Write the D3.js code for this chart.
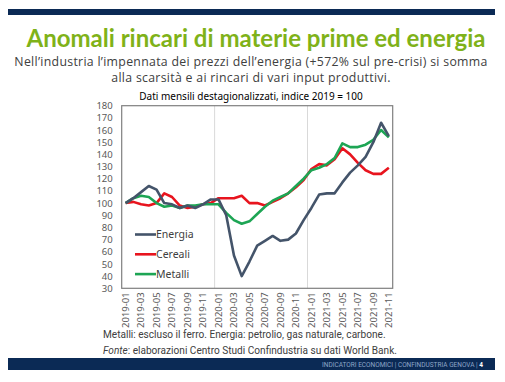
<!DOCTYPE html>
<html><head><meta charset="utf-8">
<script src="https://cdn.jsdelivr.net/npm/d3@7"></script>
<style>
html,body{margin:0;padding:0;background:#fff;}
svg{display:block;}
</style>
</head><body>
<svg id="c" width="505" height="382"></svg>
<script>
const months = ["2019-01","2019-02","2019-03","2019-04","2019-05","2019-06","2019-07","2019-08","2019-09","2019-10","2019-11","2019-12",
"2020-01","2020-02","2020-03","2020-04","2020-05","2020-06","2020-07","2020-08","2020-09","2020-10","2020-11","2020-12",
"2021-01","2021-02","2021-03","2021-04","2021-05","2021-06","2021-07","2021-08","2021-09","2021-10","2021-11"];
const energia = [100,104,109,114,111,100,99,96,98,96,99,103,103,90,57,40,52,65,69,73,69,70,75,86,96,107,108,108,117,125,131,138,150,166,155];
const cereali = [100,101,99,98,100,108,105,98,96,97,99,100,104,104,104,106,100,100,98,101,104,108,113,119,128,132,131,136,145,140,133,127,124,124,129];
const metalli = [100,104,106,105,100,97,98,96,98,98,99,99,99,92,86,83,85,91,97,102,105,108,114,120,127,129,132,137,149,146,146,148,152,160,154];
const seriesNames = ["Energia","Cereali","Metalli"];
const seriesColors = ["#44546a","#e8141e","#1da554"];
const yTicks = [30,40,50,60,70,80,90,100,110,120,130,140,150,160,170,180];
const xTickLabels = months.filter((m,i)=>i%2===0);

const svg = d3.select("#c");
const navy = "#0b2a55";

// top bar
svg.append("rect").attr("x",8).attr("y",9).attr("width",487).attr("height",6).attr("fill",navy);
// title
svg.append("text").attr("x",256).attr("y",47).attr("text-anchor","middle")
  .attr("font-family","Lato, 'Open Sans', sans-serif").attr("font-weight","bold").attr("font-size",24)
  .attr("fill","#7fb219").text("Anomali rincari di materie prime ed energia");
// subtitle
const sub = svg.append("g").attr("font-family","'Open Sans', sans-serif").attr("font-size",12.3)
  .attr("letter-spacing",0.3).attr("fill","#404040").attr("text-anchor","middle");
sub.append("text").attr("x",251).attr("y",65.5).text("Nell\u2019industria l\u2019impennata dei prezzi dell\u2019energia (+572% sul pre-crisi) si somma");
sub.append("text").attr("x",251).attr("y",82).text("alla scarsit\u00e0 e ai rincari di vari input produttivi.");
// chart title
svg.append("text").attr("x",251).attr("y",100).attr("text-anchor","middle")
  .attr("font-family","'Liberation Sans Narrow', 'Noto Sans', sans-serif").attr("font-size",10).attr("fill","#000")
  .text("Dati mensili destagionalizzati, indice 2019 = 100");

const L=121.7, R=392.7, T=105.7, B=288.3;
const x = d3.scaleBand().domain(months).range([L,R]);
const y = d3.scaleLinear().domain([30,180]).range([B,T]);
const cx = m => x(m)+x.bandwidth()/2;

// gridlines at year starts
svg.append("g").selectAll("line").data(["2020-01","2021-01"]).join("line")
  .attr("x1",d=>x(d)).attr("x2",d=>x(d)).attr("y1",T).attr("y2",B)
  .attr("stroke","#d9d9d9").attr("stroke-width",1);

// y axis
const yAxis = svg.append("g").attr("transform",`translate(${L},0)`)
  .call(d3.axisLeft(y).tickValues(yTicks).tickSize(0).tickPadding(9));
yAxis.select(".domain").remove();
yAxis.selectAll("text").attr("font-family","'Noto Sans', sans-serif").attr("font-size",9.5).attr("fill","#595959");

// x axis
const xAxis = svg.append("g").attr("transform",`translate(0,${B})`)
  .call(d3.axisBottom(x).tickValues(xTickLabels).tickSize(0).tickPadding(0));
xAxis.select(".domain").remove();
xAxis.selectAll("text").attr("font-family","'Noto Sans', sans-serif").attr("font-size",9.5).attr("fill","#595959")
  .attr("text-anchor","end").attr("transform","translate(0,4) rotate(-90)").attr("dx",0).attr("dy","0.35em").attr("y",0);

// border
svg.append("rect").attr("x",L).attr("y",T).attr("width",R-L).attr("height",B-T)
  .attr("fill","none").attr("stroke","#7f7f7f").attr("stroke-width",1.2);

// lines
const data = [energia,cereali,metalli];
const line = d3.line().x((d,i)=>cx(months[i])).y(d=>y(d));
svg.append("g").selectAll("path").data([1,2,0]).join("path")
  .attr("d",k=>line(data[k])).attr("fill","none")
  .attr("stroke",k=>seriesColors[k]).attr("stroke-width",2.6).attr("stroke-linejoin","round");

// legend
const lg = svg.append("g");
seriesNames.forEach((n,i)=>{
  const yy = 234.5 + i*19.8;
  lg.append("line").attr("x1",135).attr("x2",156).attr("y1",yy).attr("y2",yy).attr("stroke",seriesColors[i]).attr("stroke-width",2.6);
  lg.append("text").attr("x",156).attr("y",yy).attr("dy","0.35em").attr("font-family","'Noto Sans', sans-serif")
    .attr("font-size",10.5).attr("fill","#404040").text(n);
});

// footnotes
const fn = svg.append("g").attr("font-family","Roboto, 'Noto Sans', sans-serif").attr("font-size",10.1).attr("fill","#404040");
fn.append("text").attr("x",103).attr("y",338).text("Metalli: escluso il ferro. Energia: petrolio, gas naturale, carbone.");
const t2 = fn.append("text").attr("x",103).attr("y",353.5);
t2.append("tspan").attr("font-style","italic").text("Fonte");
t2.append("tspan").text(": elaborazioni Centro Studi Confindustria su dati World Bank.");

// bottom bar
svg.append("rect").attr("x",8).attr("y",358).attr("width",487).attr("height",12).attr("fill",navy);
const bt = svg.append("text").attr("x",483).attr("y",366.5).attr("text-anchor","end")
  .attr("font-family","Roboto, sans-serif").attr("font-size",6.5).attr("fill","#8ea6c8");
bt.append("tspan").text("INDICATORI ECONOMICI  |  CONFINDUSTRIA GENOVA  |  ");
bt.append("tspan").attr("fill","#fff").attr("font-weight","bold").text("4");
</script>
</body></html>
